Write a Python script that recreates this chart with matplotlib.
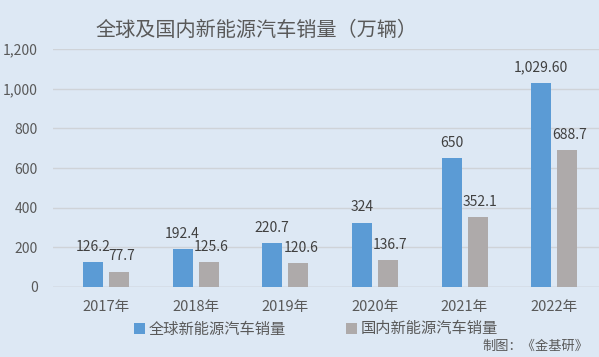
import matplotlib
matplotlib.use("Agg")
import matplotlib.pyplot as plt
from matplotlib.ticker import FuncFormatter

plt.rcParams['font.family'] = ['Noto Sans CJK SC', 'DejaVu Sans']

years = ['2017年', '2018年', '2019年', '2020年', '2021年', '2022年']
global_sales = [126.2, 192.4, 220.7, 324, 650, 1029.60]
domestic_sales = [77.7, 125.6, 120.6, 136.7, 352.1, 688.7]
global_labels = ['126.2', '192.4', '220.7', '324', '650', '1,029.60']
domestic_labels = ['77.7', '125.6', '120.6', '136.7', '352.1', '688.7']
title = '全球及国内新能源汽车销量（万辆）'
series_names = ['全球新能源汽车销量', '国内新能源汽车销量']
source = '制图：《金基研》'

bg = '#dde8f4'
blue = '#5b9bd5'
gray = '#aeaaaa'
txt = '#595959'

fig = plt.figure(figsize=(5.99, 3.57), dpi=100, facecolor=bg)
ax = fig.add_axes([53/599, 1-287/357, 546/599, 238/357], facecolor=bg)

x = list(range(len(years)))
w = 0.223
off = 0.145
b1 = ax.bar([i - off for i in x], global_sales, width=w, color=blue, label=series_names[0], zorder=3)
b2 = ax.bar([i + off for i in x], domestic_sales, width=w, color=gray, label=series_names[1], zorder=3)

for i in x:
    ax.annotate(global_labels[i], (i - off, global_sales[i]), xytext=(0, 6), textcoords='offset points',
                ha='center', va='bottom', fontsize=10, color='#404040')
    ax.annotate(domestic_labels[i], (i + off + 0.03, domestic_sales[i]), xytext=(0, 6), textcoords='offset points',
                ha='center', va='bottom', fontsize=10, color='#404040')

ax.set_xlim(-0.59, 5.5)
ax.set_ylim(0, 1200)
ax.set_yticks(range(0, 1201, 200))
ax.yaxis.set_major_formatter(FuncFormatter(lambda v, p: f'{int(v):,}'))
ax.set_xticks(x)
ax.set_xticklabels(years)
ax.tick_params(axis='both', length=0, colors=txt, labelsize=10)
ax.tick_params(axis='x', pad=9, labelsize=10.5)
ax.tick_params(axis='y', pad=11)
ax.grid(axis='y', color='#cfd3d8', linewidth=1, zorder=0)
for s in ax.spines.values():
    s.set_visible(False)
ax.axhline(0, color='#c8ccd0', linewidth=1, zorder=2)

fig.text(256/599, 1-30/357, title, ha='center', va='center', fontsize=14.5, color=txt)

fig.legend(handles=[b1, b2], labels=series_names, loc='center', bbox_to_anchor=(316/599, 1-329/357),
           ncol=2, frameon=False, fontsize=11, handlelength=0.7, handleheight=0.7,
           handletextpad=0.25, columnspacing=3.95, labelcolor=txt)

fig.text(588/599, 1-346/357, source, ha='right', va='center', fontsize=9.5, color=txt)

fig.savefig('out.png', dpi=100, facecolor=bg)
